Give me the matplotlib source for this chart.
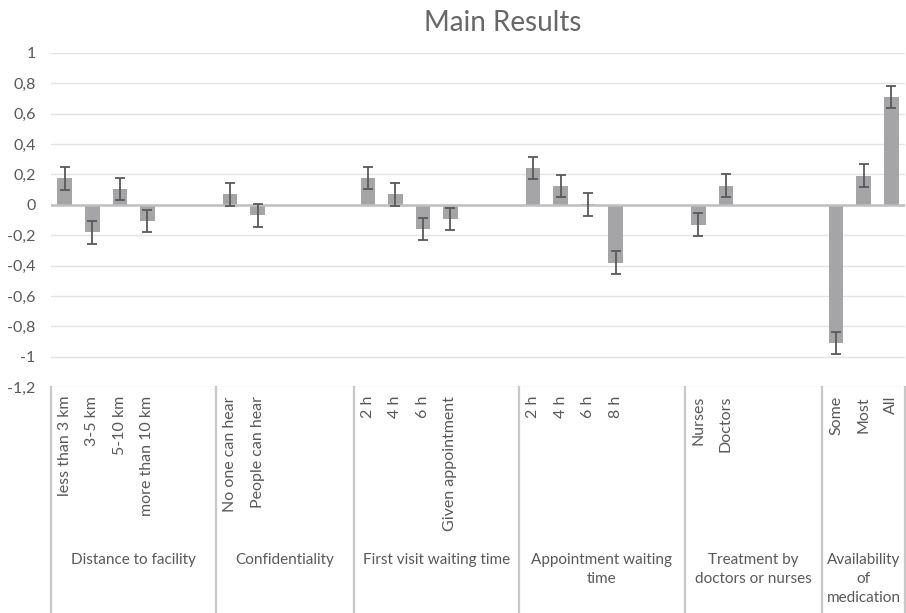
import numpy as np
import matplotlib
matplotlib.use("Agg")
import matplotlib.pyplot as plt
from matplotlib.transforms import blended_transform_factory

plt.rcParams['font.family'] = ['Lato', 'DejaVu Sans']

# one slot per spreadsheet row, blank rows keep the gaps between groups
categories = ["less than 3 km", "3-5 km", "5-10 km", "more than 10 km", "", "",
              "No one can hear", "People can hear", "", "", "",
              "2 h", "4 h", "6 h", "Given appointment", "", "",
              "2 h", "4 h", "6 h", "8 h", "", "",
              "Nurses", "Doctors", "", "", "",
              "Some", "Most", "All"]
values = [0.175, -0.182, 0.105, -0.105, np.nan, np.nan,
          0.07, -0.07, np.nan, np.nan, np.nan,
          0.175, 0.07, -0.16, -0.094, np.nan, np.nan,
          0.245, 0.125, 0.003, -0.38, np.nan, np.nan,
          -0.13, 0.127, np.nan, np.nan, np.nan,
          -0.91, 0.193, 0.71]
errors = [0.075, 0.075, 0.074, 0.074, np.nan, np.nan,
          0.075, 0.075, np.nan, np.nan, np.nan,
          0.072, 0.075, 0.072, 0.072, np.nan, np.nan,
          0.073, 0.073, 0.074, 0.074, np.nan, np.nan,
          0.074, 0.073, np.nan, np.nan, np.nan,
          0.074, 0.073, 0.074]
group_names = ["Distance to facility", "Confidentiality", "First visit waiting time",
               "Appointment waiting\ntime", "Treatment by\ndoctors or nurses",
               "Availability\nof\nmedication"]
group_sizes = [6, 5, 6, 6, 5, 3]

text_col = '#595959'
W, H = 906, 613
fig = plt.figure(figsize=(W / 100, H / 100), dpi=100)
ax = fig.add_axes([51 / W, 1 - 387 / H, (905 - 51) / W, (387 - 53) / H])

x = np.arange(len(categories)) + 0.5
vals = np.array(values)
errs = np.array(errors)
ok = ~np.isnan(vals)

ax.set_xlim(0, len(categories))
ax.set_ylim(-1.2, 1.0)
yt = np.round(np.arange(-1.2, 1.01, 0.2), 1) + 0.0
ax.set_yticks(yt)
ax.set_yticklabels([('%g' % v).replace('.', ',') if abs(v) > 1e-9 else '0' for v in yt],
                   color=text_col, fontsize=11.5)
ax.tick_params(axis='y', length=0, pad=11)
ax.set_xticks([])
for s in ax.spines.values():
    s.set_visible(False)
for v in yt:
    ax.axhline(v, color='#e3e3e3', lw=1, zorder=0)

ax.bar(x[ok], vals[ok], width=0.53, color='#a5a5a7', zorder=2)
ax.errorbar(x[ok], vals[ok], yerr=errs[ok], fmt='none', ecolor='#595959',
            elinewidth=1.3, capsize=3.5, capthick=1.3, zorder=3)
ax.axhline(0, color='#bfbfbf', lw=1.8, zorder=2.5)

fig.text(503 / W, 1 - 23 / H, "Main Results", ha='center', va='center',
         fontsize=20, color='#676767')

# category table under the plot
tr = blended_transform_factory(ax.transData, fig.transFigure)
axis_y = 1 - 387 / H
for xi, lab in zip(x, categories):
    if lab:
        fig.text(xi, 1 - 396 / H, lab, transform=tr, rotation=90, ha='center',
                 va='top', fontsize=11.5, color=text_col)

bounds = np.concatenate([[0], np.cumsum(group_sizes)])
for b in bounds:
    ax.plot([b, b], [0, axis_y], transform=tr, color='#c8c8c8', lw=1.6,
            clip_on=False)
for name, lo, hi in zip(group_names, bounds[:-1], bounds[1:]):
    fig.text((lo + hi) / 2, 1 - 553 / H, name, transform=tr, ha='center',
             va='top', fontsize=11, color=text_col, linespacing=1.45)

fig.savefig('out.png', dpi=100)
